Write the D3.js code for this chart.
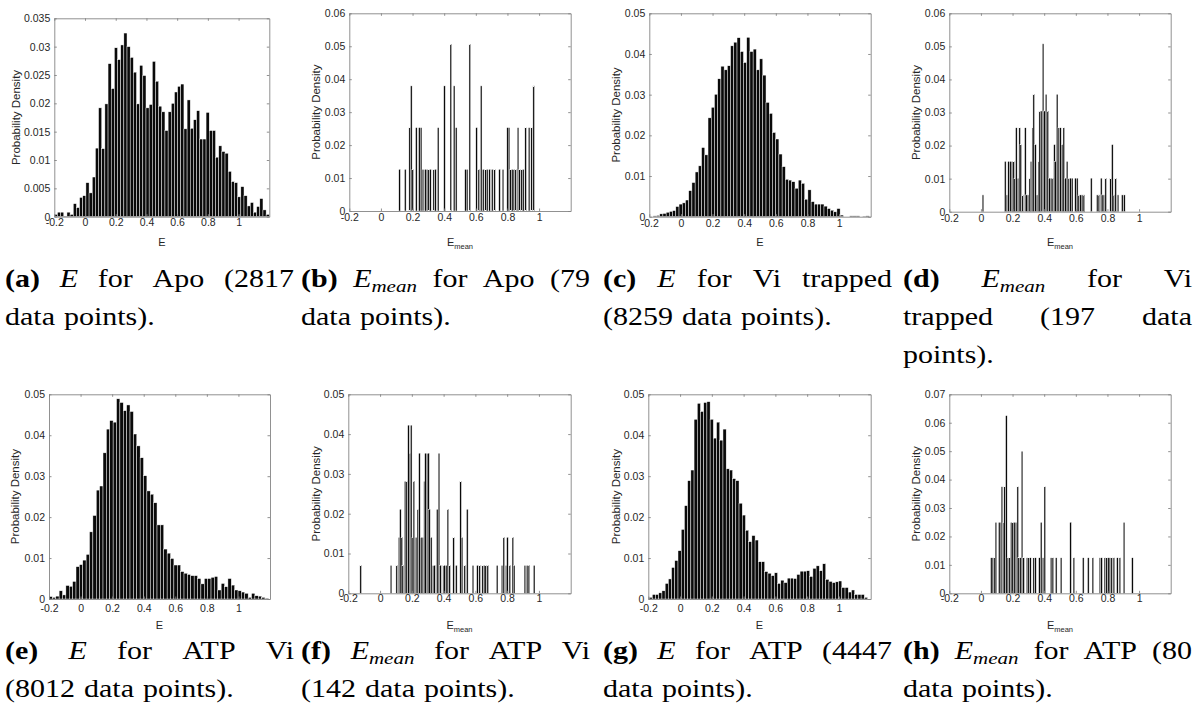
<!DOCTYPE html>
<meta charset="utf-8">
<script src="https://d3js.org/d3.v7.min.js"></script>
<style>
  body { margin: 0; background: #fff; }
</style>
<svg id="fig" width="1197" height="714"></svg>
<script>

// ---------- data ----------
// dense histograms: probability per bin, bins evenly spread between start and end
var aStart = -0.2, aEnd = 1.2;
var aVals = [0.0004,0.0008,0.0008,0.0001,0.0008,0.0004,0.0023,0.0016,0.0034,0.0037,0.0060,0.0042,0.0070,0.0121,0.0192,0.0120,0.0199,0.0270,0.0226,0.0298,0.0277,0.0303,0.0324,0.0300,0.0281,0.0255,0.0199,0.0267,0.0249,0.0192,0.0198,0.0274,0.0239,0.0195,0.0185,0.0152,0.0185,0.0200,0.0220,0.0230,0.0234,0.0155,0.0206,0.0156,0.0171,0.0187,0.0137,0.0137,0.0184,0.0152,0.0152,0.0105,0.0125,0.0115,0.0112,0.0080,0.0062,0.0060,0.0035,0.0053,0.0037,0.0019,0.0025,0.0008,0.0018,0.0032,0.0012,0.0004];

var cStart = -0.175, cEnd = 1.19;
var cVals = [0.0002,0.0003,0.0007,0.0008,0.0011,0.0013,0.0015,0.0025,0.0031,0.0034,0.0041,0.0064,0.0084,0.0110,0.0125,0.0170,0.0152,0.0243,0.0269,0.0301,0.0339,0.0370,0.0361,0.0371,0.0420,0.0429,0.0440,0.0406,0.0379,0.0441,0.0406,0.0412,0.0361,0.0388,0.0348,0.0281,0.0254,0.0207,0.0191,0.0154,0.0123,0.0092,0.0090,0.0086,0.0070,0.0090,0.0082,0.0043,0.0066,0.0037,0.0031,0.0031,0.0031,0.0026,0.0020,0.0016,0.0012,0.0020,0.0004,0,0,0.0002,0.0002,0.0002,0,0.0001,0.0002];

var eStart = -0.2, eEnd = 1.19;
var eVals = [0.0006,0.0004,0.0007,0.0020,0.0010,0.0033,0.0031,0.0043,0.0079,0.0084,0.0095,0.0109,0.0164,0.0204,0.0266,0.0276,0.0357,0.0415,0.0436,0.0432,0.0489,0.0480,0.0460,0.0474,0.0458,0.0403,0.0374,0.0345,0.0301,0.0264,0.0256,0.0235,0.0181,0.0181,0.0122,0.0112,0.0099,0.0083,0.0083,0.0067,0.0063,0.0060,0.0057,0.0057,0.0050,0.0037,0.0050,0.0050,0.0053,0.0055,0.0022,0.0038,0.0030,0.0050,0.0034,0.0022,0.0020,0.0017,0.0014,0.0004,0.0014,0.0008,0.0007,0.0004,0.0002];

var gStart = -0.195, gEnd = 1.18;
var gVals = [0.0004,0.0011,0.0011,0.0015,0.0020,0.0038,0.0049,0.0077,0.0094,0.0118,0.0170,0.0228,0.0289,0.0315,0.0439,0.0478,0.0458,0.0480,0.0482,0.0439,0.0393,0.0432,0.0388,0.0415,0.0318,0.0315,0.0294,0.0289,0.0234,0.0205,0.0168,0.0140,0.0155,0.0144,0.0091,0.0091,0.0067,0.0063,0.0057,0.0064,0.0038,0.0046,0.0040,0.0051,0.0051,0.0050,0.0060,0.0068,0.0068,0.0069,0.0055,0.0075,0.0081,0.0069,0.0086,0.0048,0.0043,0.0040,0.0042,0.0044,0.0028,0.0028,0.0017,0.0022,0.0011,0.0011,0.0011,0.0004];

// sparse histograms: bin centres and counts, density = count / total
var sparseBin = 0.0105;
var bTotal = 79;
var bCenters = [0.118,0.154,0.182,0.192,0.201,0.224,0.243,0.254,0.266,0.281,0.292,0.302,0.313,0.334,0.345,0.362,0.402,0.442,0.463,0.476,0.535,0.545,0.562,0.605,0.619,0.634,0.647,0.662,0.672,0.687,0.704,0.719,0.750,0.772,0.801,0.810,0.820,0.831,0.841,0.852,0.867,0.877,0.890,0.900,0.915,0.937,0.953,0.966];
var bCounts = [1,1,2,3,1,2,2,2,1,1,1,1,1,1,1,2,3,4,3,2,1,1,4,2,1,3,1,1,1,1,1,1,1,1,2,2,1,1,1,1,2,1,1,1,2,2,2,3];

var dTotal = 197;
var dCenters = [0.013,0.154,0.165,0.175,0.186,0.197,0.207,0.214,0.224,0.235,0.245,0.252,0.264,0.281,0.288,0.298,0.309,0.317,0.328,0.334,0.345,0.355,0.366,0.372,0.381,0.393,0.402,0.412,0.423,0.433,0.444,0.455,0.465,0.471,0.482,0.493,0.503,0.514,0.524,0.535,0.545,0.556,0.567,0.577,0.598,0.609,0.619,0.630,0.640,0.651,0.698,0.736,0.746,0.761,0.767,0.778,0.789,0.820,0.831,0.841,0.852,0.867,0.894,0.907];
var dCounts = [1,3,1,3,3,3,3,2,5,2,5,4,1,5,1,1,2,3,5,7,4,1,3,6,6,10,6,7,6,2,2,2,4,3,7,5,5,4,5,2,3,2,2,2,2,2,1,1,1,1,2,1,1,2,1,1,2,2,4,1,2,1,1,1];

var fTotal = 142;
var fCenters = [-0.122,0.069,0.105,0.120,0.128,0.137,0.143,0.158,0.168,0.179,0.189,0.196,0.206,0.213,0.227,0.238,0.248,0.259,0.270,0.280,0.286,0.297,0.305,0.311,0.322,0.335,0.343,0.360,0.371,0.381,0.400,0.406,0.417,0.427,0.438,0.463,0.480,0.507,0.516,0.533,0.549,0.585,0.613,0.627,0.646,0.657,0.665,0.678,0.737,0.768,0.779,0.794,0.802,0.817,0.836,0.844,0.912,0.926,0.937,0.970];
var fCounts = [1,1,1,2,3,2,1,4,4,6,5,6,2,4,2,3,5,2,2,4,5,5,5,3,2,1,1,3,5,1,1,1,1,3,1,2,1,4,2,1,3,1,1,1,1,1,1,1,1,1,2,1,2,1,2,1,1,1,1,1];

var hTotal = 80;
var hCenters = [0.066,0.076,0.087,0.095,0.116,0.127,0.133,0.144,0.150,0.161,0.171,0.182,0.192,0.201,0.211,0.222,0.233,0.239,0.249,0.260,0.270,0.292,0.302,0.313,0.334,0.345,0.370,0.381,0.393,0.404,0.444,0.455,0.476,0.507,0.567,0.588,0.647,0.679,0.708,0.753,0.763,0.784,0.795,0.806,0.816,0.827,0.841,0.863,0.879,0.905,0.958];
var hCounts = [1,1,1,2,2,2,3,2,3,5,1,1,2,2,2,2,3,1,1,4,1,1,1,1,1,1,1,2,1,3,1,1,1,1,2,1,1,1,1,1,1,1,1,1,1,1,1,1,1,2,1];

// axis ticks
var xTicks = [-0.2, 0, 0.2, 0.4, 0.6, 0.8, 1];
var yMaxes = { a: 0.035, b: 0.06, c: 0.05, d: 0.06, e: 0.05, f: 0.05, g: 0.05, h: 0.07 };
var yStep = { a: 0.005, b: 0.01, c: 0.01, d: 0.01, e: 0.01, f: 0.01, g: 0.01, h: 0.01 };

// captions: string = roman, {b} = bold, {i} = italic, {i, sub} = italic with subscript
var captions = {
  a: [[{b:"(a)"}, {i:"E"}, "for", "Apo", "(2817"], ["data", "points)."]],
  b: [[{b:"(b)"}, {i:"E", sub:"mean"}, "for", "Apo", "(79"], ["data", "points)."]],
  c: [[{b:"(c)"}, {i:"E"}, "for", "Vi", "trapped"], ["(8259", "data", "points)."]],
  d: [[{b:"(d)"}, {i:"E", sub:"mean"}, "for", "Vi"], ["trapped", "(197", "data"], ["points)."]],
  e: [[{b:"(e)"}, {i:"E"}, "for", "ATP", "Vi"], ["(8012", "data", "points)."]],
  f: [[{b:"(f)"}, {i:"E", sub:"mean"}, "for", "ATP", "Vi"], ["(142", "data", "points)."]],
  g: [[{b:"(g)"}, {i:"E"}, "for", "ATP", "(4447"], ["data", "points)."]],
  h: [[{b:"(h)"}, {i:"E", sub:"mean"}, "for", "ATP", "(80"], ["data", "points)."]]
};

// ---------- layout ----------
var svg = d3.select("#fig");
var axisColor = "#858585", textColor = "#262626";

function dense(start, end, vals) {
  var w = (end - start) / vals.length;
  return vals.map(function(v, i) { return { x0: start + i * w, x1: start + (i + 1) * w, v: v }; });
}
function sparse(centers, counts, total) {
  return centers.map(function(c, i) {
    return { x0: c - sparseBin / 2, x1: c + sparseBin / 2, v: counts[i] / total };
  });
}

var panels = [
  { id: "a", l: 54.3,  r: 269.3,  t: 18.3,  b: 216.7, bins: dense(aStart, aEnd, aVals), sub: false, pad: 1.5, yl: 16,  xlY: 246 },
  { id: "b", l: 349.3, r: 570.7,  t: 13.3,  b: 211,   bins: sparse(bCenters, bCounts, bTotal), sub: true, pad: 3, yl: 316, xlY: 246 },
  { id: "c", l: 649.3, r: 870.7,  t: 13.3,  b: 216.7, bins: dense(cStart, cEnd, cVals), sub: false, pad: 2.5, yl: 616, xlY: 246 },
  { id: "d", l: 949.3, r: 1170.7, t: 13.3,  b: 211.7, bins: sparse(dCenters, dCounts, dTotal), sub: true, pad: 2.5, yl: 916, xlY: 246 },
  { id: "e", l: 49,    r: 270,    t: 394.3, b: 599,   bins: dense(eStart, eEnd, eVals), sub: false, pad: 5.5, yl: 15,  xlY: 629 },
  { id: "f", l: 348.3, r: 570.7,  t: 394.3, b: 593.3, bins: sparse(fCenters, fCounts, fTotal), sub: true, pad: 1.5, yl: 316, xlY: 629 },
  { id: "g", l: 648.3, r: 870.7,  t: 394.3, b: 599,   bins: dense(gStart, gEnd, gVals), sub: false, pad: 5.5, yl: 616, xlY: 629 },
  { id: "h", l: 949.3, r: 1170.7, t: 394.3, b: 593.3, bins: sparse(hCenters, hCounts, hTotal), sub: true, pad: 1.5, yl: 916, xlY: 629 }
];

panels.forEach(function(p) {
  var x = d3.scaleLinear().domain([-0.2, 1.2]).range([p.l, p.r]);
  var y = d3.scaleLinear().domain([0, yMaxes[p.id]]).range([p.b, p.t]);
  var yTicks = d3.range(0, yMaxes[p.id] + yStep[p.id] / 2, yStep[p.id]);
  var g = svg.append("g");

  // bars
  g.selectAll("rect.bar")
    .data(p.bins.filter(function(d) { return d.v > 0; }))
    .enter().append("rect")
      .attr("class", "bar")
      .attr("x", function(d) { return x(d.x0); })
      .attr("width", function(d) { return x(d.x1) - x(d.x0); })
      .attr("y", function(d) { return y(d.v); })
      .attr("height", function(d) { return y(0) - y(d.v); })
      .attr("fill", "#0a0a0a")
      .attr("stroke", "#fff")
      .attr("stroke-width", 0.45);

  // axes (ticks inward, box on)
  var fx = function(d) { return String(d); };
  var fy = function(d) { return String(+d.toFixed(3)); };
  var ax = [
    g.append("g").attr("transform", "translate(0," + p.b + ")")
      .call(d3.axisBottom(x).tickValues(xTicks).tickFormat(fx).tickSizeInner(-2.5).tickSizeOuter(0).tickPadding(p.pad)),
    g.append("g").attr("transform", "translate(" + p.l + ",0)")
      .call(d3.axisLeft(y).tickValues(yTicks).tickFormat(fy).tickSizeInner(-2.5).tickSizeOuter(0).tickPadding(4)),
    g.append("g").attr("transform", "translate(0," + p.t + ")")
      .call(d3.axisTop(x).tickValues(xTicks).tickFormat("").tickSizeInner(-2.5).tickSizeOuter(0)),
    g.append("g").attr("transform", "translate(" + p.r + ",0)")
      .call(d3.axisRight(y).tickValues(yTicks).tickFormat("").tickSizeInner(-2.5).tickSizeOuter(0))
  ];
  ax.forEach(function(a) {
    a.attr("font-family", "'Liberation Sans', Arial, sans-serif").attr("font-size", 10.5);
    a.selectAll("path.domain, line").attr("stroke", axisColor).attr("stroke-width", 0.9);
    a.selectAll("text").attr("fill", textColor);
  });

  // axis labels
  svg.append("text")
    .attr("transform", "translate(" + p.yl + "," + ((p.t + p.b) / 2) + ") rotate(-90)")
    .attr("dy", "0.35em")
    .attr("text-anchor", "middle")
    .attr("font-family", "'Liberation Sans', Arial, sans-serif")
    .attr("font-size", 11.5)
    .attr("fill", textColor)
    .text("Probability Density");

  var xl = svg.append("text")
    .attr("x", (p.l + p.r) / 2)
    .attr("y", p.xlY)
    .attr("text-anchor", "middle")
    .attr("font-family", "'Liberation Sans', Arial, sans-serif")
    .attr("font-size", 11)
    .attr("fill", textColor);
  xl.append("tspan").text("E");
  if (p.sub) xl.append("tspan").attr("font-size", 7.5).attr("dy", 3).text("mean");
});

// ---------- captions (justified like the LaTeX subcaptions) ----------
var capSX = 1.2, capSize = 25;
var capCols = { a: 5, b: 301, c: 603, d: 903, e: 5, f: 301, g: 603, h: 903 };
var capWidth = 289;
var capLines = { top: [287, 325, 363], bottom: [659, 697] };

function drawCaption(id) {
  var cap = captions[id];
  var rows = "abcd".indexOf(id) >= 0 ? capLines.top : capLines.bottom;
  var cg = svg.append("g").attr("transform", "translate(" + capCols[id] + ",0) scale(" + capSX + ",1)");
  var W = capWidth / capSX;
  cap.forEach(function(line, li) {
    var items = line.map(function(tok) {
      var t = cg.append("text")
        .attr("y", rows[li])
        .attr("font-family", "'Liberation Serif', 'Times New Roman', serif")
        .attr("font-size", capSize)
        .attr("fill", "#000");
      if (typeof tok === "string") t.text(tok);
      else if (tok.b) t.attr("font-weight", "bold").text(tok.b);
      else {
        t.append("tspan").attr("font-style", "italic").text(tok.i);
        if (tok.sub) t.append("tspan").attr("font-style", "italic").attr("font-size", capSize * 0.7).attr("dy", 5).text(tok.sub);
      }
      return { el: t, w: t.node().getComputedTextLength() };
    });
    var last = li === cap.length - 1;
    var total = d3.sum(items, function(d) { return d.w; });
    var gap = (last || items.length < 2) ? capSize * 0.3 : (W - total) / (items.length - 1);
    var cx = 0;
    items.forEach(function(it) { it.el.attr("x", cx); cx += it.w + gap; });
  });
}
Object.keys(captions).forEach(drawCaption);

</script>
